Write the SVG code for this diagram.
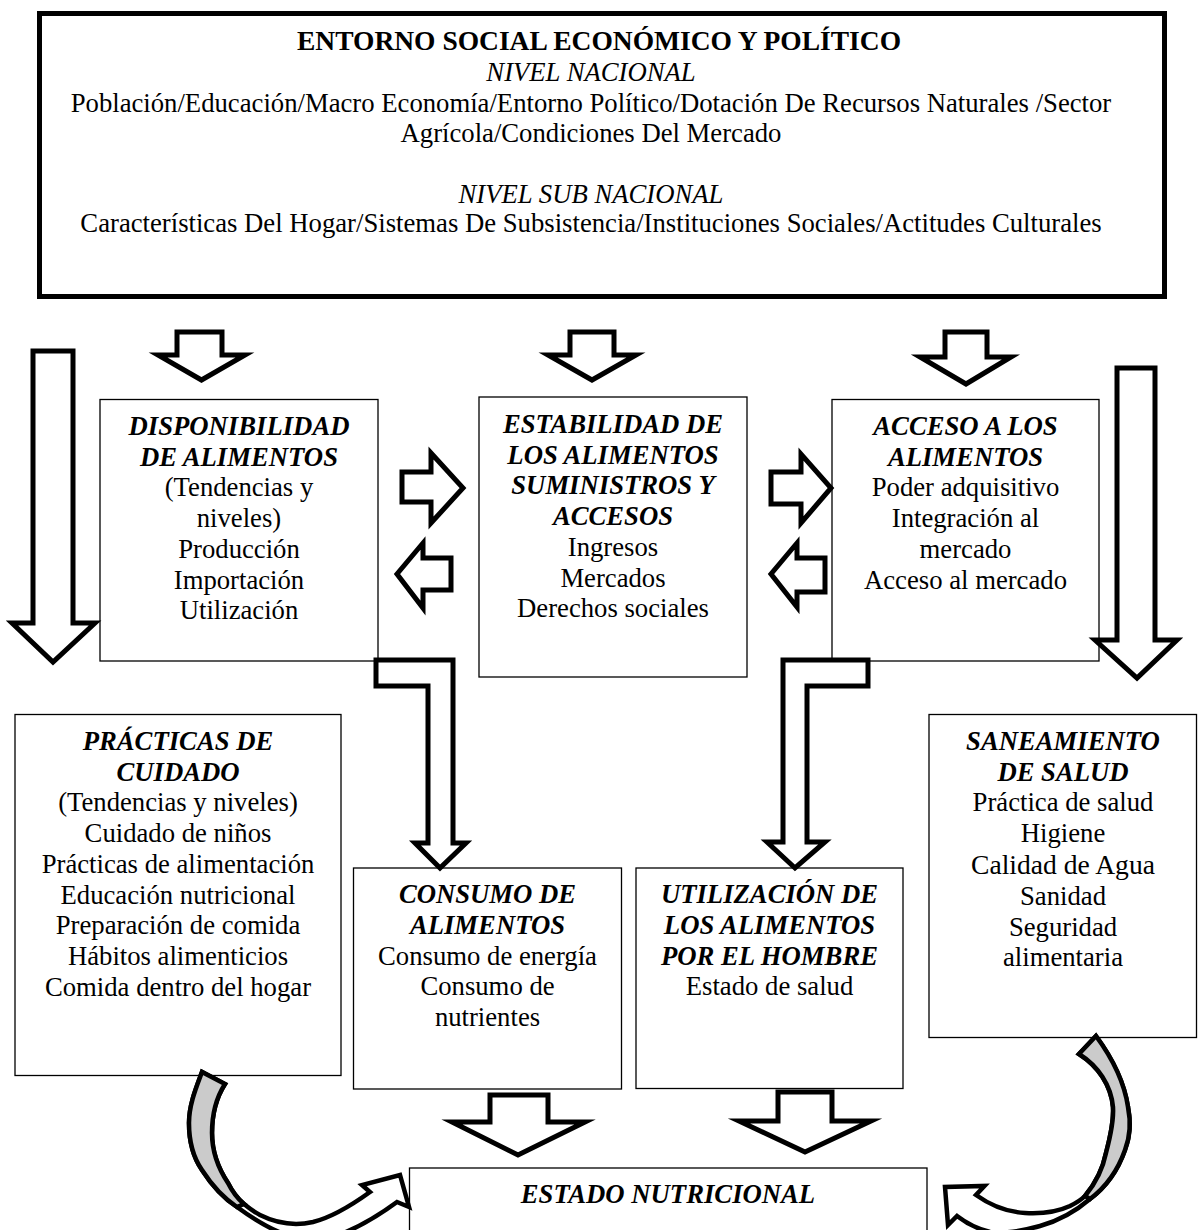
<svg xmlns="http://www.w3.org/2000/svg" width="1202" height="1230" viewBox="0 0 1202 1230">
<style>
.box{fill:#fff;stroke:#000;stroke-width:1.3}
.topbox{fill:#fff;stroke:#000;stroke-width:5}
.blk{fill:#fff;stroke:#000;stroke-width:5;stroke-linejoin:miter;stroke-miterlimit:10}
.crv{fill:#fff;stroke:#000;stroke-width:4.5;stroke-linejoin:miter;stroke-miterlimit:10}
.shade{fill:#cbcbcb;stroke:#000;stroke-width:4.5;stroke-linejoin:miter}
text{font-family:"Liberation Serif","Times New Roman",serif;font-size:26.7px;text-anchor:middle;fill:#000}
.h{font-weight:bold;font-style:italic}
.b{font-weight:bold;font-size:27.5px}
.i{font-style:italic}
</style>
<rect width="1202" height="1230" fill="#fff"/>
<g id="entorno">
<rect class="topbox" x="39.5" y="13.5" width="1125" height="283"/>
<text class="b" x="599" y="50">ENTORNO SOCIAL ECONÓMICO Y POLÍTICO</text>
<text class="i" x="591" y="81">NIVEL NACIONAL</text>
<text x="591" y="111.7">Población/Educación/Macro Economía/Entorno Político/Dotación De Recursos Naturales /Sector</text>
<text x="591" y="142">Agrícola/Condiciones Del Mercado</text>
<text class="i" x="591" y="202.5">NIVEL SUB NACIONAL</text>
<text x="591" y="232">Características Del Hogar/Sistemas De Subsistencia/Instituciones Sociales/Actitudes Culturales</text>
</g>
<g id="disponibilidad">
<rect class="box" x="100" y="399.5" width="278" height="261.5"/>
<text class="h" x="239" y="435">DISPONIBILIDAD</text>
<text class="h" x="239" y="465.7">DE ALIMENTOS</text>
<text x="239" y="496.4">(Tendencias y</text>
<text x="239" y="527">niveles)</text>
<text x="239" y="557.8">Producción</text>
<text x="239" y="588.5">Importación</text>
<text x="239" y="619.2">Utilización</text>
</g>
<g id="estabilidad">
<rect class="box" x="479" y="397" width="268" height="280"/>
<text class="h" x="613" y="433">ESTABILIDAD DE</text>
<text class="h" x="613" y="463.7">LOS ALIMENTOS</text>
<text class="h" x="613" y="494.4">SUMINISTROS Y</text>
<text class="h" x="613" y="525">ACCESOS</text>
<text x="613" y="555.8">Ingresos</text>
<text x="613" y="586.5">Mercados</text>
<text x="613" y="617.2">Derechos sociales</text>
</g>
<g id="acceso">
<rect class="box" x="832" y="399.5" width="267" height="261.5"/>
<text class="h" x="965.5" y="435">ACCESO A LOS</text>
<text class="h" x="965.5" y="465.7">ALIMENTOS</text>
<text x="965.5" y="496.4">Poder adquisitivo</text>
<text x="965.5" y="527">Integración al</text>
<text x="965.5" y="557.8">mercado</text>
<text x="965.5" y="588.5">Acceso al mercado</text>
</g>
<g id="practicas">
<rect class="box" x="15" y="714.5" width="326" height="361"/>
<text class="h" x="178" y="750">PRÁCTICAS DE</text>
<text class="h" x="178" y="780.7">CUIDADO</text>
<text x="178" y="811.4">(Tendencias y niveles)</text>
<text x="178" y="842">Cuidado de niños</text>
<text x="178" y="872.8">Prácticas de alimentación</text>
<text x="178" y="903.5">Educación nutricional</text>
<text x="178" y="934.2">Preparación de comida</text>
<text x="178" y="965">Hábitos alimenticios</text>
<text x="178" y="995.6">Comida dentro del hogar</text>
</g>
<g id="consumo">
<rect class="box" x="353.5" y="868" width="268" height="221"/>
<text class="h" x="487.5" y="903.3">CONSUMO DE</text>
<text class="h" x="487.5" y="934">ALIMENTOS</text>
<text x="487.5" y="964.7">Consumo de energía</text>
<text x="487.5" y="995.4">Consumo de</text>
<text x="487.5" y="1026">nutrientes</text>
</g>
<g id="utilizacion">
<rect class="box" x="636" y="868" width="267" height="220.5"/>
<text class="h" x="769.5" y="903.3">UTILIZACIÓN DE</text>
<text class="h" x="769.5" y="934">LOS ALIMENTOS</text>
<text class="h" x="769.5" y="964.7">POR EL HOMBRE</text>
<text x="769.5" y="995.4">Estado de salud</text>
</g>
<g id="saneamiento">
<rect class="box" x="929" y="714.5" width="267.5" height="323"/>
<text class="h" x="1063" y="750">SANEAMIENTO</text>
<text class="h" x="1063" y="780.7">DE SALUD</text>
<text x="1063" y="811.4">Práctica de salud</text>
<text x="1063" y="842">Higiene</text>
<text x="1063" y="874.3" style="font-size:27.6px">Calidad de Agua</text>
<text x="1063" y="905">Sanidad</text>
<text x="1063" y="935.5">Seguridad</text>
<text x="1063" y="966">alimentaria</text>
</g>
<g id="estado">
<rect class="box" x="409.5" y="1168" width="517.5" height="90"/>
<text class="h" x="668" y="1203">ESTADO NUTRICIONAL</text>
</g>
<g id="connectors">
<polygon class="blk" points="177,332 222,332 222,355 245,355 201.5,380 158,355 177,355"/>
<polygon class="blk" points="570,332 614,332 614,355 636,355 592,380 548,355 570,355"/>
<polygon class="blk" points="945,332 987,332 987,357 1011,357 966,384 920,357 945,357"/>
<polygon class="blk" points="33,351 73,351 73,623 95,623 53,662 12,623 33,623"/>
<polygon class="blk" points="1117,368 1155,368 1155,640 1177,640 1137,678 1095,640 1117,640"/>
<polygon class="blk" points="402,472 431,472 431,453 463,488 431,523 431,502 402,502"/>
<polygon class="blk" points="451,558 423,558 423,543 397,574 423,608 423,590 451,590"/>
<polygon class="blk" points="771,472 801,472 801,454 831,488 801,523 801,504 771,504"/>
<polygon class="blk" points="825,558 797,558 797,543 771,574 797,607 797,592 825,592"/>
<polygon class="blk" points="376,660 453,660 453,843 466,843 440,868 415,843 428,843 428,686 376,686"/>
<polygon class="blk" points="868,660 783,660 783,842 767,842 795,868 825,842 807,842 807,686 868,686"/>
<polygon class="blk" points="490,1095 548,1095 548,1122 585,1122 518,1155 452,1122 490,1122"/>
<polygon class="blk" points="778,1092 832,1092 832,1121 871,1121 805,1152 739,1121 778,1121"/>
<path class="crv" d="M202,1072 C196,1088 189,1105 189,1123 C189,1141 193,1157 202,1170 C211,1184 222,1197 237,1207 C252,1218 270,1230 290,1236 C303,1240 318,1241 330,1238 C355,1230 378,1216 397,1202 L409,1207 L400,1175 L362,1185 L370,1192 C352,1205 333,1217 313,1222 C295,1226 276,1223 260,1215 C254,1212 249,1208 244,1204 C238,1199 232,1191 228,1183 C218,1168 212,1150 212,1133 C212,1115 216,1098 225,1084 Z"/>
<path class="shade" d="M202,1072 C196,1088 189,1105 189,1123 C189,1141 193,1157 202,1170 C211,1184 222,1197 237,1207 L244,1204 C238,1199 232,1191 228,1183 C218,1168 212,1150 212,1133 C212,1115 216,1098 225,1084 Z"/>
<path class="crv" d="M1096,1036 C1110,1055 1124,1080 1128,1107 C1131,1122 1130,1137 1125,1150 C1118,1170 1106,1187 1090,1199 C1076,1211 1058,1221 1040,1226 C1022,1231 1005,1234 990,1232 C978,1229 966,1223 957,1216 L948,1225 L945,1187 L984.5,1186 L976,1195 C990,1205 1007,1212 1025,1213 C1042,1214 1057,1212 1070,1206 C1076,1203 1081,1200 1085,1196 C1095,1184 1103,1168 1106,1153 C1110,1138 1114,1122 1113,1107 C1111,1085 1098,1066 1079,1054 Z"/>
<path class="shade" d="M1096,1036 C1110,1055 1124,1080 1128,1107 C1131,1122 1130,1137 1125,1150 C1118,1170 1106,1187 1090,1199 L1085,1196 C1095,1184 1103,1168 1106,1153 C1110,1138 1114,1122 1113,1107 C1111,1085 1098,1066 1079,1054 Z"/>
</g>
</svg>
